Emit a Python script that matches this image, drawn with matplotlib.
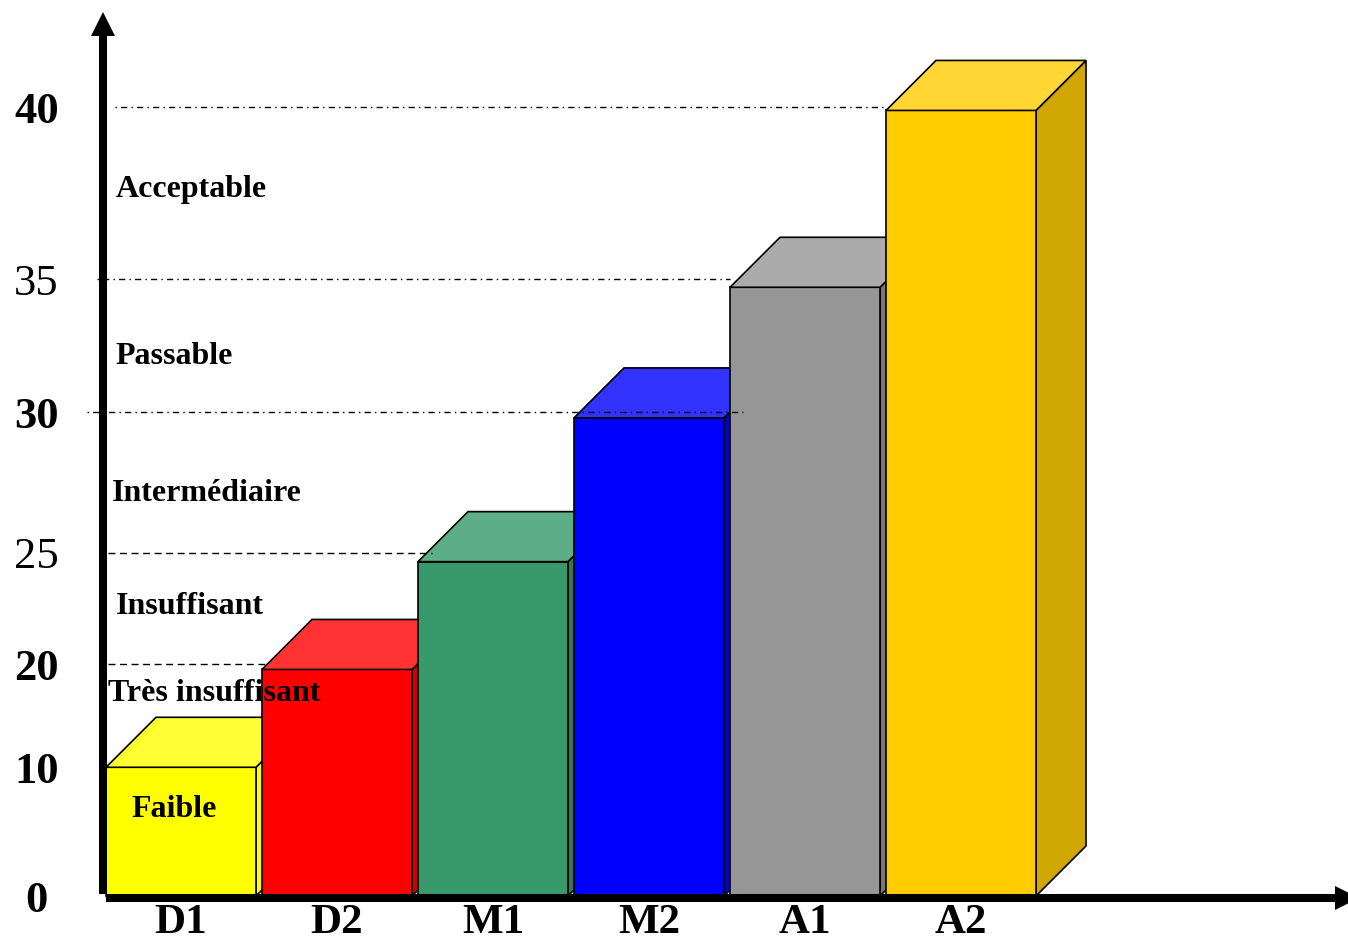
import numpy as np
import matplotlib.pyplot as plt
from matplotlib.patches import Polygon

plt.rcParams['font.family'] = ['Liberation Serif', 'DejaVu Serif']

# data
categories = ['D1', 'D2', 'M1', 'M2', 'A1', 'A2']
scores = [10, 19.5, 24.6, 29.8, 34.7, 39.9]
front_colors = ['#ffff00', '#ff0000', '#38996a', '#0000ff', '#969696', '#ffcc00']
top_colors = ['#ffff33', '#ff3333', '#5dae86', '#3333ff', '#ababab', '#ffd633']
side_colors = ['#ffff00', '#cc0000', '#2d7a55', '#0000cc', '#787878', '#cfa700']

y_ticks = [0, 10, 20, 25, 30, 35, 40]
y_tick_weights = ['bold', 'bold', 'bold', 'normal', 'bold', 'normal', 'bold']

zone_names = ['Faible', 'Très insuffisant', 'Insuffisant', 'Intermédiaire', 'Passable', 'Acceptable']
zone_y = [6.7, 17.2, 22.6, 27.1, 32.1, 37.6]
zone_x = [-0.32, -0.47, -0.42, -0.44, -0.42, -0.42]

limits = [20, 25, 30, 35, 40]
limit_x0 = [-0.47, -0.47, -0.60, -0.54, -0.42]
limit_x1 = [0.54, 1.61, 3.60, 3.52, 4.51]
limit_dash = [(5, 3.3), (5, 3.3), (1, 3, 4.5, 3), (1, 3, 4.5, 3), (1, 3, 4.5, 3)]

# uneven vertical axis, as drawn in the original
scale_vals = [-5, 0, 10, 20, 25, 30, 35, 40, 50]
scale_pos = [-8, 56, 184.7, 287.7, 399.3, 539.7, 672.7, 845, 1190]


def forward(v):
    return np.interp(v, scale_vals, scale_pos)


def inverse(p):
    return np.interp(p, scale_pos, scale_vals)


fig = plt.figure(figsize=(13.48, 9.52), dpi=100)
ax = fig.add_axes([103 / 1348, 54 / 952, 1245 / 1348, 886 / 952])
ax.set_yscale('function', functions=(forward, inverse))
ax.set_xlim(-0.5, (1348 - 181) / 156)
ax.set_ylim(inverse(54), inverse(940))
for s in ax.spines.values():
    s.set_visible(False)

w = 150 / 156
dx = 50 / 156
depth = 50
for i, v in enumerate(scores):
    z = 2 + i * 3
    x0, x1 = i - w / 2, i + w / 2
    vb = inverse(forward(v) + depth)
    base_b = inverse(forward(0) + depth)
    ax.add_patch(Polygon([(x1, 0), (x1, v), (x1 + dx, vb), (x1 + dx, base_b)],
                         closed=True, fc=side_colors[i], ec='k', lw=1.2, zorder=z))
    ax.bar(i, v, width=w, color=front_colors[i], edgecolor='k', lw=1.2, zorder=z + 1)
    ax.add_patch(Polygon([(x0, v), (x1, v), (x1 + dx, vb), (x0 + dx, vb)],
                         closed=True, fc=top_colors[i], ec='k', lw=1.2, zorder=z + 2))

for v, a, b, d in zip(limits, limit_x0, limit_x1, limit_dash):
    ax.plot([a, b], [v, v], color='k', lw=1, dashes=d, zorder=30, clip_on=False)

for name, x, y in zip(zone_names, zone_x, zone_y):
    ax.text(x, y, name, fontsize=23, fontweight='bold', ha='left', va='center', zorder=40)

ax.set_yticks(y_ticks)
ax.set_yticklabels([str(t) for t in y_ticks], fontsize=32)
for lab, fw in zip(ax.get_yticklabels(), y_tick_weights):
    lab.set_fontweight(fw)
    lab.set_ha('center')
ax.set_xticks(range(len(categories)))
ax.set_xticklabels(categories, fontsize=31, fontweight='bold')
ax.tick_params(axis='y', length=0, pad=48)
ax.tick_params(axis='x', length=0, pad=4)

# axis arrows
ax.plot([0, 0], [0.004, 0.975], color='k', lw=5.8, solid_capstyle='butt',
        transform=ax.transAxes, clip_on=False, zorder=50)
ax.plot(0, 0.987, marker='^', ms=16.6, mew=0, color='k',
        transform=ax.transAxes, clip_on=False, zorder=50)
ax.plot([0.0024, 0.99], [0, 0], color='k', lw=5.8, solid_capstyle='butt',
        transform=ax.transAxes, clip_on=False, zorder=50)
ax.plot(0.9988, 0, marker='>', ms=16.6, mew=0, color='k',
        transform=ax.transAxes, clip_on=False, zorder=50)

fig.savefig('out.png', dpi=100)
